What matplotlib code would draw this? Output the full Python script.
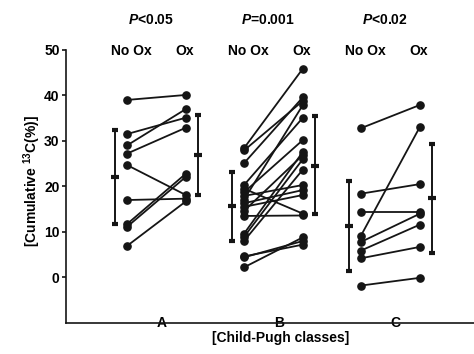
import matplotlib
matplotlib.use("Agg")
import matplotlib.pyplot as plt

plt.rcParams['font.family'] = 'Liberation Sans'
plt.rcParams['font.weight'] = 'bold'
plt.rcParams['mathtext.fontset'] = 'custom'
plt.rcParams['mathtext.it'] = 'Liberation Sans:italic:bold'
plt.rcParams['mathtext.bf'] = 'Liberation Sans:bold'
plt.rcParams['mathtext.rm'] = 'Liberation Sans:bold'

classes = ["A", "B", "C"]
p_labels = [r"$\mathit{P}$<0.05", r"$\mathit{P}$=0.001", r"$\mathit{P}$<0.02"]

# paired values, No Ox -> Ox
a_noox = [39.0, 31.5, 29.0, 27.2, 24.7, 17.0, 11.7, 11.1, 6.9]
a_ox = [40.1, 35.1, 37.0, 32.9, 18.1, 17.3, 22.8, 22.1, 16.7]

b_noox = [28.4, 27.9, 25.1, 20.3, 19.5, 18.7, 17.9, 17.1, 16.3,
          15.5, 14.6, 13.5, 9.6, 8.9, 8.0, 4.6, 4.4, 2.2]
b_ox = [45.9, 38.8, 39.6, 35.1, 14.0, 30.2, 20.3, 37.9, 19.2,
        18.1, 26.9, 13.6, 27.6, 26.0, 23.7, 7.2, 8.0, 8.8]

c_noox = [32.8, 18.4, 14.4, 9.2, 7.8, 5.9, 4.2, -1.8]
c_ox = [37.9, 20.5, 14.4, 33.1, 14.0, 11.6, 6.7, -0.1]

# mean, lower, upper of the error bars
noox_mean = [22.0, 15.6, 11.3]
noox_low = [11.8, 8.0, 1.4]
noox_high = [32.4, 23.2, 21.1]
ox_mean = [26.9, 24.5, 17.5]
ox_low = [18.1, 14.0, 5.4]
ox_high = [35.6, 35.4, 29.3]

groups = [(a_noox, a_ox), (b_noox, b_ox), (c_noox, c_ox)]
col = '#151515'

fig = plt.figure(figsize=(4.74, 3.54), dpi=100)
ax = fig.add_axes([0.139, 0.088, 0.861, 0.771])

for i, (nx, ox) in enumerate(groups):
    c = i + 1
    for y0, y1 in zip(nx, ox):
        ax.plot([c - 0.296, c + 0.207], [y0, y1], color=col, lw=1.3,
                marker='o', ms=5.2, mfc=col, mec=col, solid_capstyle='butt')
    ax.errorbar([c - 0.398], [noox_mean[i]],
                yerr=[[noox_mean[i] - noox_low[i]], [noox_high[i] - noox_mean[i]]],
                fmt='_', color=col, ms=6, mew=3, capsize=2.5, elinewidth=1.4, capthick=1.4)
    ax.errorbar([c + 0.312], [ox_mean[i]],
                yerr=[[ox_mean[i] - ox_low[i]], [ox_high[i] - ox_mean[i]]],
                fmt='_', color=col, ms=6, mew=3, capsize=2.5, elinewidth=1.4, capthick=1.4)
    ax.text(c - 0.26, 49.8, "No Ox", ha='center', va='center', fontsize=10,
            fontweight='bold', clip_on=False)
    ax.text(c + 0.2, 49.8, "Ox", ha='center', va='center', fontsize=10,
            fontweight='bold', clip_on=False)
    ax.text(c - 0.09, 56.6, p_labels[i], ha='center', va='center', fontsize=10,
            fontweight='bold', clip_on=False)

ax.set_xlim(0.182, 3.669)
ax.set_ylim(-10, 50)
ax.set_yticks([0, 10, 20, 30, 40, 50])
ax.set_xticks([1, 2, 3])
ax.set_xticklabels(classes)
for lab in ax.get_xticklabels():
    lab.set_verticalalignment('center')
ax.tick_params(axis='x', length=0, pad=0, labelsize=10)
ax.tick_params(axis='y', length=3, width=1.1, pad=1.5, labelsize=10)

ax.spines['top'].set_visible(False)
ax.spines['right'].set_visible(False)
ax.spines['left'].set_linewidth(1.2)
ax.spines['bottom'].set_linewidth(1.2)
ax.spines['left'].set_color(col)
ax.spines['bottom'].set_color(col)

ax.set_xlabel("[Child-Pugh classes]", fontsize=10, fontweight='bold')
ax.xaxis.set_label_coords(0.525, -0.03)
ax.set_ylabel(r"[Cumulative $^{\mathbf{13}}$C(%)]", fontsize=10, fontweight='bold')
ax.yaxis.set_label_coords(-0.057, 0.52)

fig.savefig("out.png", dpi=100)
